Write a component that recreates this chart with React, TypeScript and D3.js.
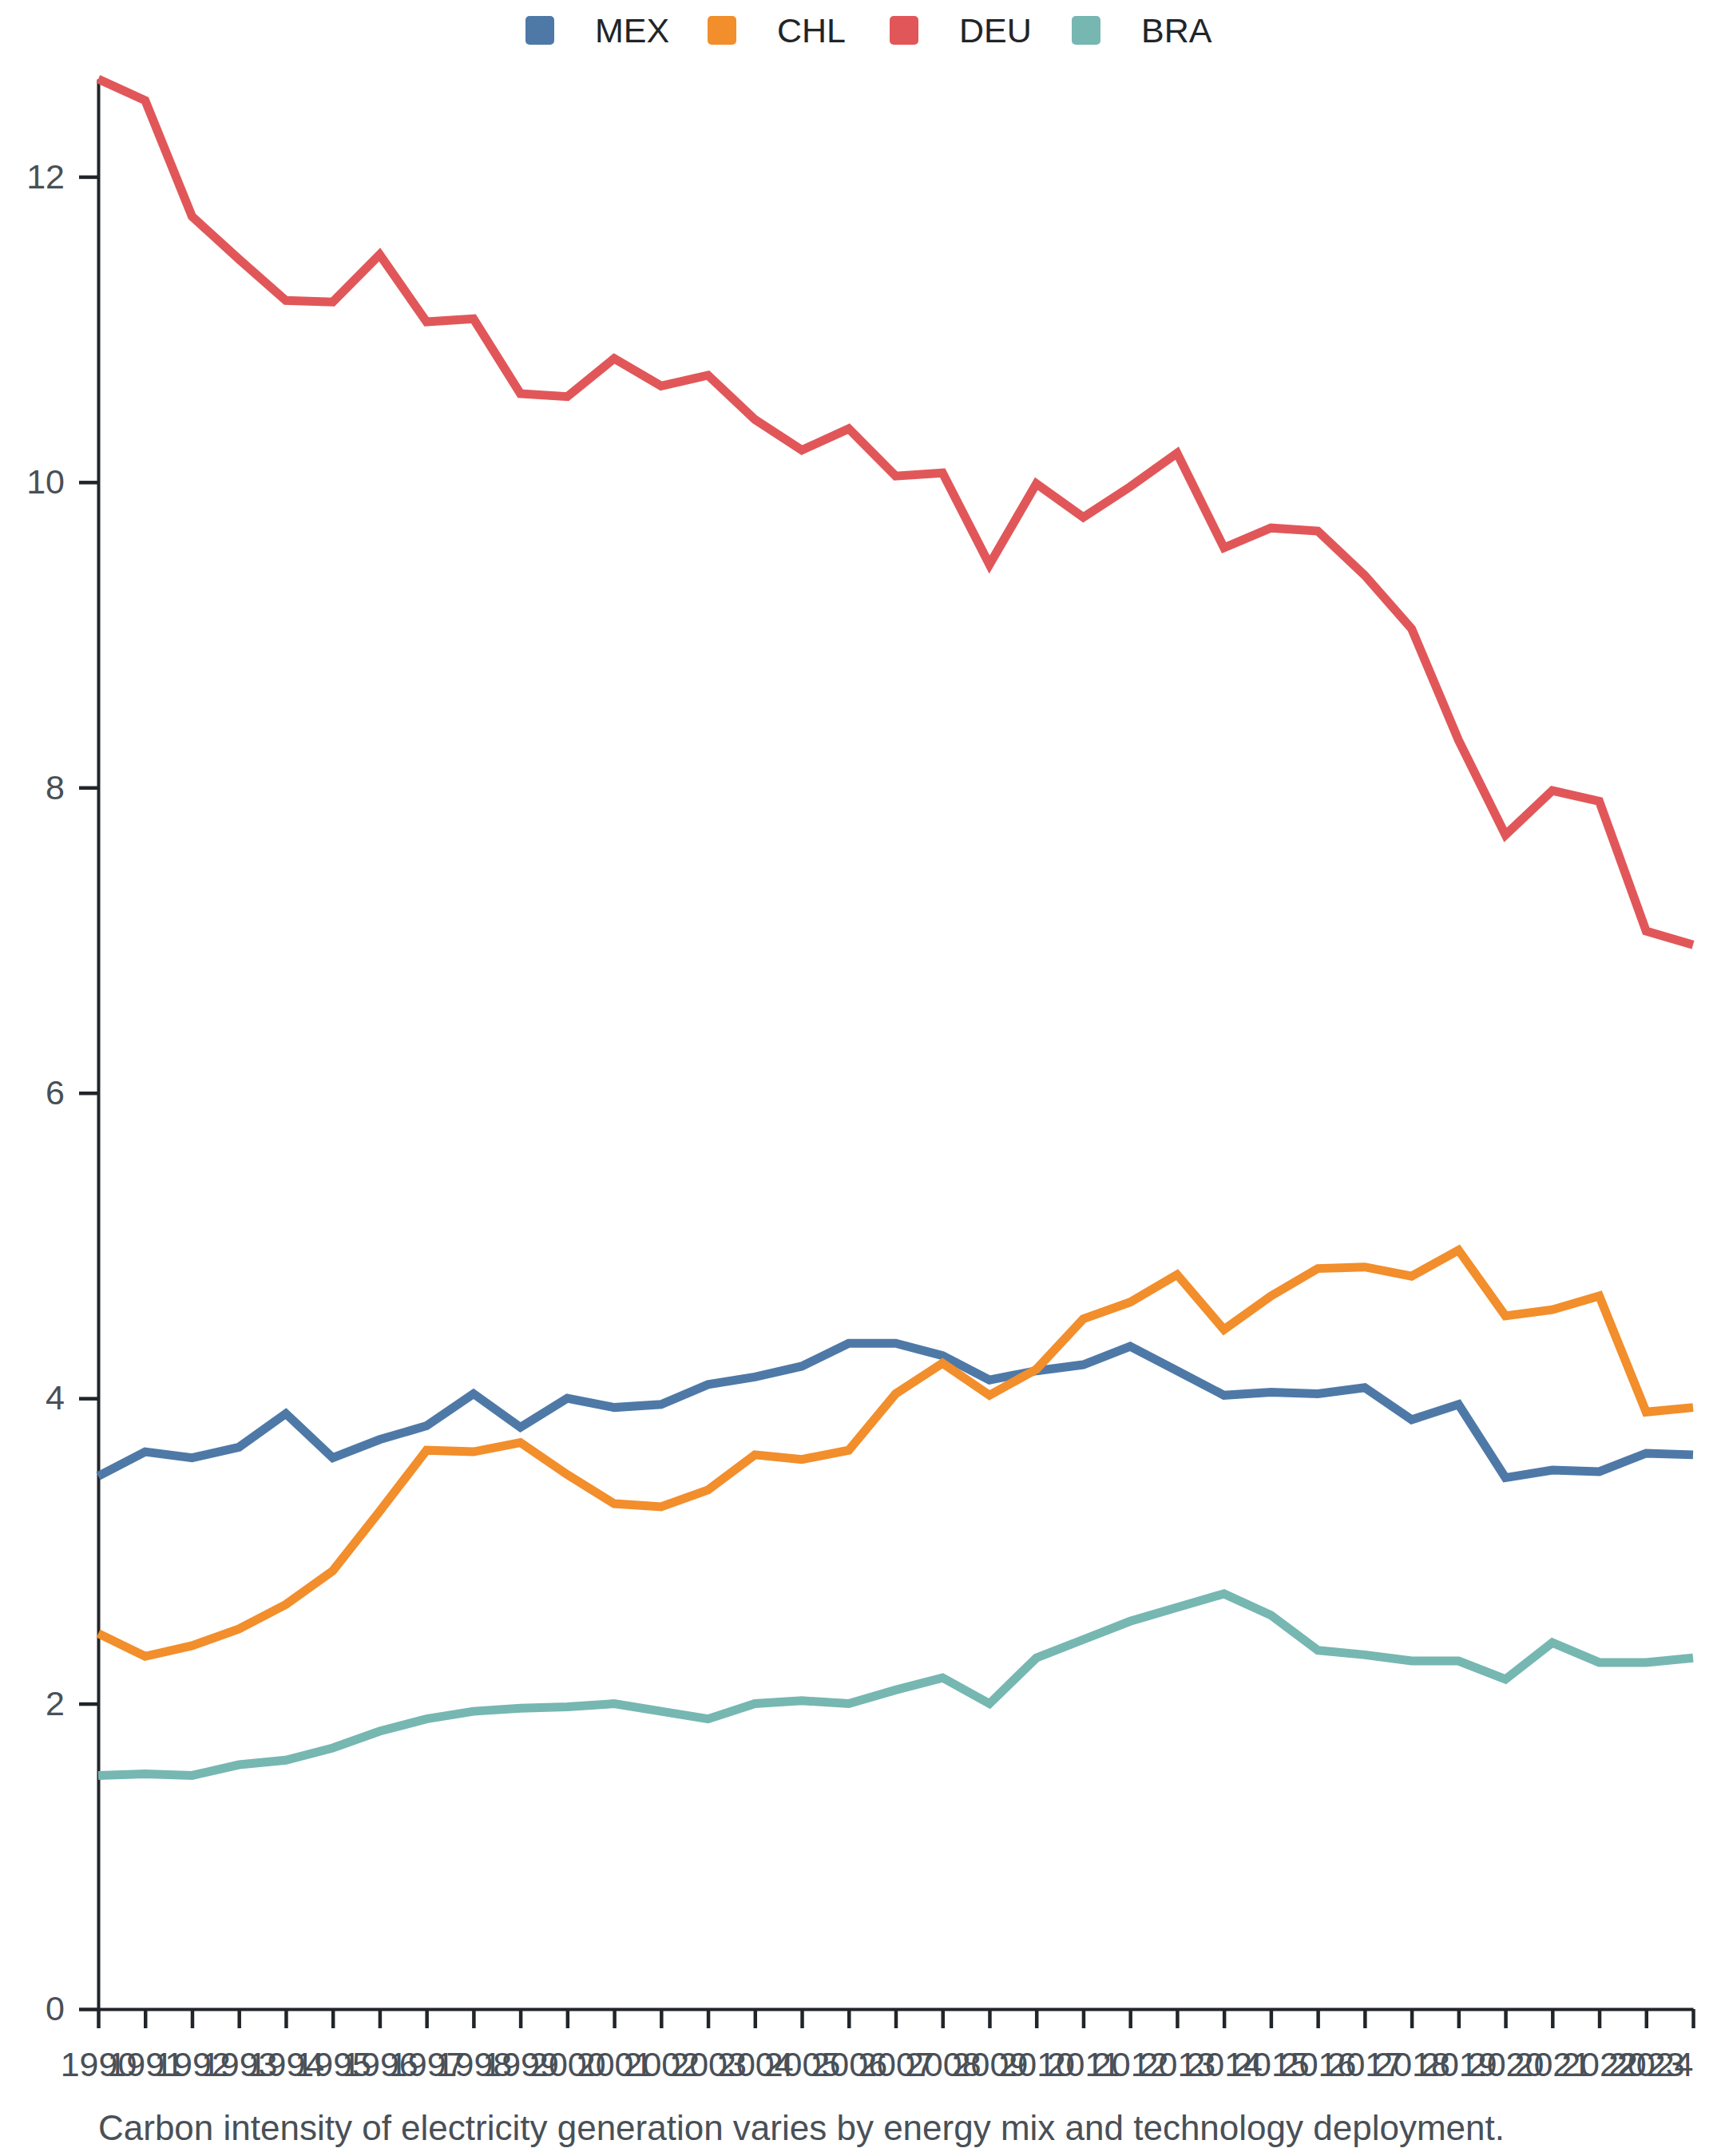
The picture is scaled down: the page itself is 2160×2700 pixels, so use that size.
import React, { useEffect, useRef } from "react";
import * as d3 from "d3";

const years = [
  "1990", "1991", "1992", "1993", "1994", "1995", "1996", "1997", "1998", "1999",
  "2000", "2001", "2002", "2003", "2004", "2005", "2006", "2007", "2008", "2009",
  "2010", "2011", "2012", "2013", "2014", "2015", "2016", "2017", "2018", "2019",
  "2020", "2021", "2022", "2023", "2024",
];

const seriesNames = ["MEX", "CHL", "DEU", "BRA"];

const mex = [
  3.49, 3.65, 3.61, 3.68, 3.9, 3.61, 3.73, 3.82, 4.03, 3.81, 4.0, 3.94, 3.96, 4.09,
  4.14, 4.21, 4.36, 4.36, 4.28, 4.12, 4.18, 4.22, 4.34, 4.18, 4.02, 4.04, 4.03, 4.07,
  3.86, 3.96, 3.48, 3.53, 3.52, 3.64, 3.63,
];
const chl = [
  2.46, 2.31, 2.38, 2.49, 2.65, 2.87, 3.26, 3.66, 3.65, 3.71, 3.5, 3.31, 3.29, 3.4,
  3.63, 3.6, 3.66, 4.03, 4.23, 4.02, 4.19, 4.52, 4.63, 4.81, 4.45, 4.67, 4.85, 4.86,
  4.8, 4.97, 4.54, 4.58, 4.67, 3.91, 3.94,
];
const deu = [
  12.64, 12.5, 11.74, 11.46, 11.19, 11.18, 11.49, 11.05, 11.07, 10.58, 10.56, 10.81,
  10.63, 10.7, 10.41, 10.21, 10.35, 10.04, 10.06, 9.46, 9.99, 9.77, 9.97, 10.19, 9.57,
  9.7, 9.68, 9.39, 9.04, 8.31, 7.69, 7.98, 7.91, 7.06, 6.97,
];
const bra = [
  1.53, 1.54, 1.53, 1.6, 1.63, 1.71, 1.82, 1.9, 1.95, 1.97, 1.98, 2.0, 1.95, 1.9, 2.0,
  2.02, 2.0, 2.09, 2.17, 2.0, 2.3, 2.42, 2.54, 2.63, 2.72, 2.58, 2.35, 2.32, 2.28,
  2.28, 2.16, 2.4, 2.27, 2.27, 2.3,
];

const yTicks = [0, 2, 4, 6, 8, 10, 12];
const caption =
  "Carbon intensity of electricity generation varies by energy mix and technology deployment.";

const colors = ["#4e79a7", "#f28e2b", "#e15759", "#76b7b2"];

const width = 2160;
const height = 2700;
const margin = { top: 99, right: 40, bottom: 184, left: 123 };
const font = "'Liberation Sans', Arial, Helvetica, sans-serif";

const App: React.FC = () => {
  const svgRef = useRef<SVGSVGElement>(null);

  useEffect(() => {
    document.body.style.margin = "0";
    if (!svgRef.current) return;

    d3.select(svgRef.current).selectAll("*").remove();

    const innerWidth = width - margin.left - margin.right;
    const innerHeight = height - margin.top - margin.bottom;

    const values = [mex, chl, deu, bra];
    const series = seriesNames.map((name, i) => ({
      name,
      color: colors[i],
      points: years.map((year, j) => ({ year, value: values[i][j] })),
    }));

    const svg = d3
      .select(svgRef.current)
      .attr("width", width)
      .attr("height", height)
      .style("display", "block")
      .style("font-family", font);

    const g = svg
      .append("g")
      .attr("transform", `translate(${margin.left},${margin.top})`);

    const x = d3.scalePoint<string>().domain(years).range([0, innerWidth]);

    const y = d3
      .scaleLinear()
      .domain([0, d3.max(values.flat()) || 0])
      .range([innerHeight, 0]);

    // X axis
    const xAxis = g
      .append("g")
      .attr("transform", `translate(0,${innerHeight})`)
      .call(d3.axisBottom(x).tickSize(24).tickSizeOuter(0).tickPadding(29));

    // Y axis
    const yAxis = g
      .append("g")
      .call(d3.axisLeft(y).tickValues(yTicks).tickSize(24).tickSizeOuter(0).tickPadding(18));

    [xAxis, yAxis].forEach((ax) => {
      ax.select(".domain").attr("stroke", "#212529").attr("stroke-width", 4);
      ax.selectAll(".tick line").attr("stroke", "#212529").attr("stroke-width", 4.5);
      ax.selectAll(".tick text")
        .attr("fill", "#495057")
        .style("font-size", "43px")
        .style("font-family", font);
    });

    // last year label is pushed inside the plot
    xAxis
      .selectAll<SVGTextElement, string>(".tick text")
      .filter((d) => d === years[years.length - 1])
      .attr("text-anchor", "end");

    const line = d3
      .line<{ year: string; value: number }>()
      .x((d) => x(d.year) as number)
      .y((d) => y(d.value));

    g.selectAll(".series")
      .data(series)
      .enter()
      .append("path")
      .attr("class", "series")
      .attr("fill", "none")
      .attr("stroke", (d) => d.color)
      .attr("stroke-width", 11)
      .attr("d", (d) => line(d.points));

    // Legend
    const legendX = d3.scalePoint<string>().domain(seriesNames).range([658, 1342]);
    const legend = svg
      .append("g")
      .selectAll("g")
      .data(series)
      .enter()
      .append("g")
      .attr("transform", (d) => `translate(${legendX(d.name)},20)`);

    legend
      .append("rect")
      .attr("width", 36)
      .attr("height", 36)
      .attr("rx", 5)
      .attr("fill", (d) => d.color);

    legend
      .append("text")
      .attr("x", 87)
      .attr("y", 33)
      .style("font-size", "43px")
      .attr("fill", "#212529")
      .text((d) => d.name);

    // Caption
    svg
      .append("text")
      .attr("x", margin.left)
      .attr("y", 2680)
      .style("font-size", "44px")
      .attr("fill", "#495057")
      .text(caption);
  }, []);

  return <svg ref={svgRef}></svg>;
};

export default App;
